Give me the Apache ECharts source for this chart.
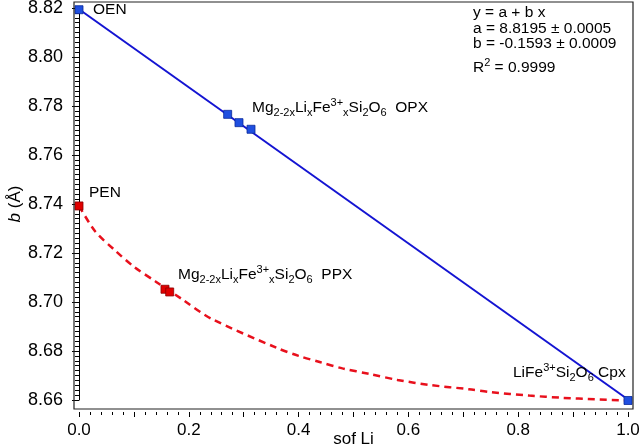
<!DOCTYPE html>
<html><head><meta charset="utf-8">
<script src="https://cdn.jsdelivr.net/npm/echarts@6/dist/echarts.min.js"></script>
<style>html,body{margin:0;padding:0;background:#fff}#c{width:640px;height:448px}</style>
</head><body><div id="c"></div>
<script>
// ---- data ----
const oenX = [0.0],               oenY = [8.8193];
const opxX = [0.2708, 0.2914, 0.3133], opxY = [8.7766, 8.7732, 8.7705];
const cpxX = [1.0],               cpxY = [8.6598];
const penX = [0.0],               penY = [8.7392];
const ppxX = [0.1566, 0.1652],    ppxY = [8.7052, 8.7041];
const fitX = [0.0, 1.0],          fitY = [8.8195, 8.6602];
const curveX = [0, 0.03, 0.065, 0.10, 0.14, 0.19, 0.24, 0.36, 0.40, 0.44, 0.48, 0.53, 0.58, 0.64, 0.71, 0.75, 0.82, 0.88, 0.94, 1.0];
const curveY = [8.7392, 8.7287, 8.7212, 8.7144, 8.7083, 8.7008, 8.6933, 8.6813, 8.6780, 8.6754, 8.6729, 8.6706, 8.6682, 8.6661, 8.6644, 8.6632, 8.6618, 8.6609, 8.6603, 8.6598];
const xLabelTicks = [0.0, 0.2, 0.4, 0.6, 0.8, 1.0];
const yTicksMin = 8.66, yTicksMax = 8.82, yStep = 0.02;
const xName = 'sof Li';
const statLines = [
  [['y = a + b x','n']],
  [['a = 8.8195 ± 0.0005','n']],
  [['b = -0.1593 ± 0.0009','n']],
  [['R','n'],['2','sup'],[' = 0.9999','n']]
];
const annOEN = [['OEN','n']];
const annPEN = [['PEN','n']];
const annOPX = [['Mg','n'],['2-2x','sub'],['Li','n'],['x','sub'],['Fe','n'],['3+','sup'],['x','sub'],['Si','n'],['2','sub'],['O','n'],['6','sub'],['  OPX','n']];
const annPPX = [['Mg','n'],['2-2x','sub'],['Li','n'],['x','sub'],['Fe','n'],['3+','sup'],['x','sub'],['Si','n'],['2','sub'],['O','n'],['6','sub'],['  PPX','n']];
const annCPX = [['LiFe','n'],['3+','sup'],['Si','n'],['2','sub'],['O','n'],['6','sub'],[' Cpx','n']];

const zip = (a, b) => a.map((v, i) => [v, b[i]]);
const FONT = '"Liberation Sans", Arial, Helvetica, sans-serif';
const ctx = document.createElement('canvas').getContext('2d');

function richText(x, baseY, parts, size) {
  const els = []; let cx = x;
  const small = Math.round(size * 0.68);
  parts.forEach(([t, k]) => {
    const fs = k === 'n' ? size : small;
    ctx.font = fs + 'px ' + FONT;
    const dy = k === 'sub' ? 3.5 : k === 'sup' ? -7 : 0;
    els.push({ type: 'text', x: cx, y: baseY + dy - 0.32 * fs, z: 10,
      style: { text: t, fontSize: fs, fontFamily: FONT, fill: '#000', align: 'left', verticalAlign: 'middle' } });
    cx += ctx.measureText(t).width;
  });
  return els;
}

const chart = echarts.init(document.getElementById('c'), null, { renderer: 'canvas' });
const T = 15.5;
const graphics = [
  { type: 'rect', shape: { x: 74, y: 2, width: 559, height: 407 }, style: { fill: 'none', stroke: '#222', lineWidth: 1.2 }, z: 5 },
  ...richText(93, 15, annOEN, T),
  ...richText(89, 198, annPEN, T),
  ...richText(252, 113, annOPX, T),
  ...richText(178, 280, annPPX, T),
  ...richText(513, 378, annCPX, T),
  ...richText(473, 18, statLines[0], T),
  ...richText(473, 34, statLines[1], T),
  ...richText(473, 49, statLines[2], T),
  ...richText(473, 73, statLines[3], T)
];

chart.setOption({
  animation: false,
  backgroundColor: '#fff',
  grid: { left: 79, right: 12, top: 8, bottom: 48, containLabel: false, outerBoundsMode: 'none' },
  xAxis: {
    type: 'value', min: 0, max: 1, interval: 0.1, offset: 12,
    axisLine: { show: false },
    axisTick: { show: true, length: 5, lineStyle: { color: '#000', width: 1 } },
    minorTick: { show: true, splitNumber: 5, length: 3, lineStyle: { color: '#000', width: 1 } },
    splitLine: { show: false },
    axisLabel: { fontSize: 17, color: '#000', fontFamily: FONT, margin: 10,
      formatter: v => xLabelTicks.some(t => Math.abs(t - v) < 1e-6) ? v.toFixed(1) : '' },
    name: xName, nameLocation: 'middle', nameGap: 19, nameMoveOverlap: false,
    nameTextStyle: { fontSize: 17, color: '#000', fontFamily: FONT }
  },
  yAxis: {
    type: 'value', min: yTicksMin, max: yTicksMax, interval: yStep, offset: 5,
    axisLine: { show: true, lineStyle: { color: '#000', width: 1 } },
    axisTick: { show: true, length: 7, lineStyle: { color: '#000', width: 1 } },
    minorTick: { show: true, splitNumber: 10, length: 4, lineStyle: { color: '#000', width: 1 } },
    splitLine: { show: false },
    axisLabel: { fontSize: 18, color: '#000', fontFamily: FONT, margin: 11, formatter: v => v.toFixed(2) },
    name: '{i|b} (Å)', nameLocation: 'middle', nameGap: 50, nameMoveOverlap: false,
    nameTextStyle: { fontSize: 17, color: '#000', fontFamily: FONT,
      rich: { i: { fontSize: 17, fontStyle: 'italic', fontFamily: FONT, color: '#000' } } }
  },
  graphic: graphics,
  series: [
    { type: 'line', data: zip(curveX, curveY), smooth: 0.3, showSymbol: false, clip: false, z: 2,
      lineStyle: { color: '#e8101c', width: 2.5, type: [7, 5] } },
    { type: 'line', data: zip(fitX, fitY), showSymbol: false, clip: false, z: 3,
      lineStyle: { color: '#1414d2', width: 2 } },
    { type: 'scatter', data: zip(penX, penY).concat(zip(ppxX, ppxY)), symbol: 'rect', symbolSize: 8, clip: false, z: 4,
      itemStyle: { color: '#e00000', borderColor: '#8a0000', borderWidth: 0.8, opacity: 1 } },
    { type: 'scatter', data: zip(oenX, oenY).concat(zip(opxX, opxY), zip(cpxX, cpxY)), symbol: 'rect', symbolSize: 8, clip: false, z: 4,
      itemStyle: { color: '#1f4fe0', borderColor: '#0a2a9a', borderWidth: 0.8, opacity: 1 } }
  ]
});
</script></body></html>
